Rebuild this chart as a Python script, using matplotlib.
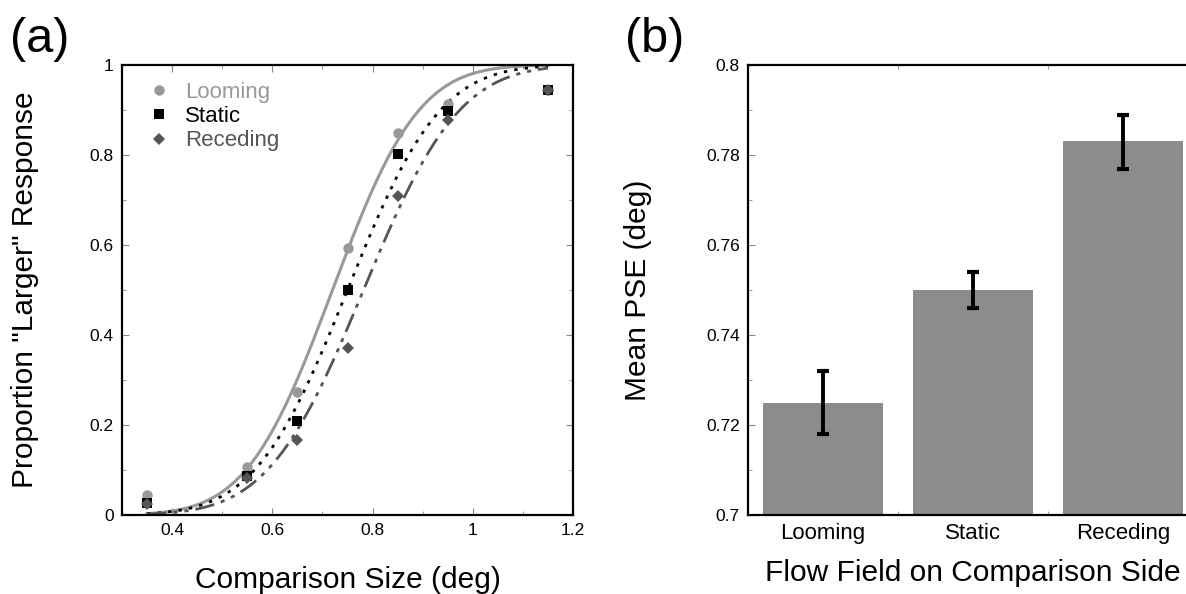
import math
import numpy as np
import matplotlib
matplotlib.use("Agg")
import matplotlib.pyplot as plt
from matplotlib.ticker import MultipleLocator, FixedLocator

plt.rcParams['font.family'] = ['Liberation Sans', 'DejaVu Sans']

# ---- Panel (a) data ----
sizes = [0.35, 0.55, 0.65, 0.75, 0.85, 0.95, 1.15]
looming = [0.044, 0.107, 0.273, 0.594, 0.850, 0.913, 0.945]
static = [0.027, 0.087, 0.209, 0.500, 0.802, 0.898, 0.945]
receding = [0.025, 0.082, 0.167, 0.372, 0.710, 0.878, 0.945]
# fitted cumulative-normal parameters (PSE, spread)
fit_mu = [0.720, 0.750, 0.782]
fit_sigma = [0.135, 0.145, 0.150]
fit_range = [0.35, 1.15]
series_names = ["Looming", "Static", "Receding"]

# ---- Panel (b) data ----
conditions = ["Looming", "Static", "Receding"]
mean_pse = [0.725, 0.750, 0.783]
err_lo = [0.718, 0.746, 0.777]
err_hi = [0.732, 0.754, 0.789]

W, H = 1186, 594
fig = plt.figure(figsize=(W / 100, H / 100), dpi=100)

axa = fig.add_axes([122 / W, 79 / H, 451 / W, 450 / H])
axb = fig.add_axes([748 / W, 79 / H, 450 / W, 450 / H])

colors = ["#999999", "#000000", "#555555"]
markers = ["o", "s", "D"]
msizes = [7.5, 7.5, 6.5]
lstyles = ["-", (0, (1.2, 2.6)), (0, (7, 2.5, 1.5, 2.5, 1.5, 2.5))]
lws = [2.2, 2.0, 2.0]

xs = np.linspace(fit_range[0], fit_range[1], 300)
for mu, sg, c, ls, lw in zip(fit_mu, fit_sigma, colors, lstyles, lws):
    ys = [0.5 * (1 + math.erf((x - mu) / (sg * math.sqrt(2)))) for x in xs]
    axa.plot(xs, ys, color=c, linestyle=ls, linewidth=lw, zorder=2)

handles = []
for vals, c, m, ms, name in zip([looming, static, receding], colors, markers, msizes, series_names):
    h, = axa.plot(sizes, vals, linestyle="none", marker=m, markersize=ms,
                  color=c, markeredgewidth=0, label=name, zorder=3)
    handles.append(h)

leg = axa.legend(handles=handles, loc="upper left", frameon=False, fontsize=16,
                 handlelength=1.0, handletextpad=0.7, labelspacing=0.15,
                 bbox_to_anchor=(0.02, 1.0), borderaxespad=0.35)
for t, c in zip(leg.get_texts(), colors):
    t.set_color(c)

axa.set_xlim(0.3, 1.2)
axa.set_ylim(0, 1)
axa.xaxis.set_major_locator(FixedLocator([0.4, 0.6, 0.8, 1.0, 1.2]))
axa.xaxis.set_minor_locator(MultipleLocator(0.1))
axa.yaxis.set_minor_locator(MultipleLocator(0.1))
axa.set_xticklabels(["0.4", "0.6", "0.8", "1", "1.2"])
axa.set_yticks([0, 0.2, 0.4, 0.6, 0.8, 1.0])
axa.set_yticklabels(["0", "0.2", "0.4", "0.6", "0.8", "1"])
axa.set_xlabel("Comparison Size (deg)", fontsize=21.5)
axa.set_ylabel('Proportion "Larger" Response', fontsize=21.5)
axa.xaxis.set_label_coords(0.5, -0.113)
axa.yaxis.set_label_coords(-0.183, 0.5)

# ---- Panel (b) ----
xpos = np.arange(1, len(conditions) + 1)
axb.bar(xpos, [v - 0.7 for v in mean_pse], bottom=0.7, width=0.8,
        color="#8c8c8c", zorder=2)
yerr = [[m - lo for m, lo in zip(mean_pse, err_lo)],
        [hi - m for m, hi in zip(mean_pse, err_hi)]]
axb.errorbar(xpos, mean_pse, yerr=yerr, fmt="none", ecolor="black",
             elinewidth=2.8, capsize=4, capthick=3, zorder=3)
axb.set_xlim(0.5, 3.5)
axb.set_ylim(0.7, 0.8)
axb.set_xticks(xpos)
axb.set_xticklabels(conditions, fontsize=16)
axb.xaxis.set_minor_locator(FixedLocator([1.5, 2.5]))
axb.yaxis.set_minor_locator(MultipleLocator(0.01))
axb.set_yticks([0.7, 0.72, 0.74, 0.76, 0.78, 0.8])
axb.set_yticklabels(["0.7", "0.72", "0.74", "0.76", "0.78", "0.8"])
axb.set_xlabel("Flow Field on Comparison Side", fontsize=21.5)
axb.set_ylabel("Mean PSE (deg)", fontsize=21.5)
axb.xaxis.set_label_coords(0.5, -0.098)
axb.yaxis.set_label_coords(-0.213, 0.5)

for ax in (axa, axb):
    for s in ax.spines.values():
        s.set_linewidth(1.6)
    ax.tick_params(which="both", direction="in", top=True, right=True,
                   labelsize=12.5, color="#888888")
    ax.tick_params(which="major", length=5, width=0.8, pad=6)
    ax.tick_params(which="minor", length=3, width=0.6)

axb.tick_params(axis="x", which="major", length=0, pad=6, labelsize=16)

fig.text(10 / W, 1 - 40 / H, "(a)", fontsize=35, va="center", ha="left")
fig.text(625 / W, 1 - 40 / H, "(b)", fontsize=35, va="center", ha="left")

fig.savefig("out.png", dpi=100)
